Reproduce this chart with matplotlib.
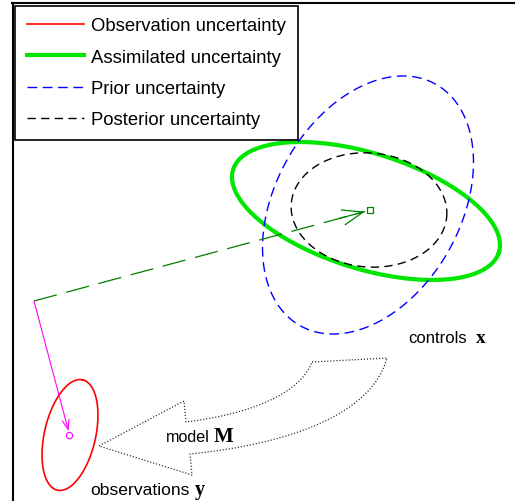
import numpy as np
import matplotlib
matplotlib.use("Agg")
import matplotlib.pyplot as plt
from matplotlib.path import Path
from matplotlib.patches import PathPatch
from matplotlib.lines import Line2D

plt.rcParams['font.family'] = ['Liberation Sans', 'DejaVu Sans']
plt.rcParams['lines.scale_dashes'] = False

W, H = 515, 502

# ---- data (pixel-like schematic coordinates, y grows downward) ----
labels = ['Observation uncertainty', 'Assimilated uncertainty',
          'Prior uncertainty', 'Posterior uncertainty']
ell_cx = [70, 366, 368, 369]
ell_cy = [436, 212, 206, 211]
ell_a = [56.6, 139.2, 138.5, 78.0]      # semi-major
ell_b = [25.6, 57.8, 92.7, 57.0]        # semi-minor
ell_ang = [77.1, -17.3, 60.7, -5.0]     # degrees (y-up convention)

obs_point = (69.3, 436)
ctrl_point = (370, 211.5)
origin_point = (34, 302)
ctrl_tip = (365, 212.5)
obs_tip = (68.5, 432)

# curved "model M" arrow outline: tail corners, curves, head
arrow_x = [312, 387, 372, 290, 190, 192, 99, 184, 186, 250, 300, 312]
arrow_y = [363, 359, 415, 445, 455, 476, 447, 402, 423, 415, 395, 363]

# ---- figure ----
fig = plt.figure(figsize=(W / 100, H / 100), dpi=100)
left_px, top_px = 12.5, 4.0
ax = fig.add_axes([left_px / W, -0.2, 1.2, 1.2 - top_px / H])
ax.set_xlim(left_px, left_px + 1.2 * W)
ax.set_ylim(top_px + (1.2 - top_px / H) * H, top_px)
for s in ['right', 'bottom']:
    ax.spines[s].set_visible(False)
for s in ['left', 'top']:
    ax.spines[s].set_linewidth(1.5)
ax.set_xticks([])
ax.set_yticks([])

styles = [
    dict(color='#ff0000', lw=1.2, ls='-'),
    dict(color='#00e600', lw=3.0, ls='-'),
    dict(color='#0000ff', lw=1.0, ls=(0, (7.0, 4.0))),
    dict(color='#000000', lw=1.0, ls=(0, (6.0, 3.8))),
]

phi = np.linspace(0, 2 * np.pi, 400)
handles = []
for i in range(4):
    th = np.deg2rad(ell_ang[i])
    xs = ell_cx[i] + ell_a[i] * np.cos(phi) * np.cos(th) - ell_b[i] * np.sin(phi) * np.sin(th)
    yup = ell_a[i] * np.cos(phi) * np.sin(th) + ell_b[i] * np.sin(phi) * np.cos(th)
    ys = ell_cy[i] - yup
    ax.plot(xs, ys, color=styles[i]['color'], lw=styles[i]['lw'], ls=styles[i]['ls'])
    handles.append(Line2D([], [], color=styles[i]['color'], lw=styles[i]['lw'],
                          ls=styles[i]['ls'], label=labels[i]))

# green dashed control increment with open arrow head
ax.plot([origin_point[0], ctrl_tip[0]], [origin_point[1], ctrl_tip[1]],
        color='#008000', lw=0.9, ls=(0, (17, 7)))
dx = ctrl_tip[0] - origin_point[0]
dy = ctrl_tip[1] - origin_point[1]
ax.annotate('', xy=ctrl_tip, xytext=(ctrl_tip[0] - 0.08 * dx, ctrl_tip[1] - 0.08 * dy),
            arrowprops=dict(arrowstyle='->,head_length=15,head_width=5.5',
                            mutation_scale=1, color='#008000', lw=0.9,
                            shrinkA=0, shrinkB=0))
ax.plot(*ctrl_point, marker='s', ms=4.5, mfc='none', mec='#008000', mew=0.9)

# magenta observation arrow
ax.annotate('', xy=obs_tip, xytext=origin_point,
            arrowprops=dict(arrowstyle='->,head_length=7,head_width=2.5',
                            mutation_scale=1, color='#ff00ff', lw=0.8,
                            shrinkA=0, shrinkB=0))
ax.plot(*obs_point, marker='o', ms=4.5, mfc='none', mec='#ff00ff', mew=0.8)

# curved model arrow (dotted outline)
verts = list(zip(arrow_x, arrow_y))
codes = [Path.MOVETO, Path.LINETO,
         Path.CURVE4, Path.CURVE4, Path.CURVE4,
         Path.LINETO, Path.LINETO, Path.LINETO, Path.LINETO,
         Path.CURVE4, Path.CURVE4, Path.CURVE4]
ax.add_patch(PathPatch(Path(verts, codes), fill=False, ec='#222222', lw=0.9,
                       ls=(0, (0.8, 1.4))))

# text labels
serif = ['Liberation Serif', 'DejaVu Serif']
ax.text(408, 343, 'controls', fontsize=12, va='baseline')
ax.text(476, 343, 'x', fontsize=14, family=serif, weight='bold', va='baseline')
ax.text(166, 442.5, 'model', fontsize=11.6, va='baseline')
ax.text(213.5, 442.5, 'M', fontsize=15, family=serif, weight='bold', va='baseline')
ax.text(90, 495, 'observations', fontsize=12.6, va='baseline')
ax.text(195, 495, 'y', fontsize=14.5, family=serif, weight='bold', va='baseline')

leg = ax.legend(handles=handles, loc='upper left', bbox_to_anchor=(0, 1),
                borderaxespad=0.15, fontsize=13.3, handlelength=3.1,
                handletextpad=0.4, labelspacing=0.78, borderpad=0.62,
                fancybox=False, edgecolor='black', framealpha=1)
leg.get_frame().set_linewidth(1.2)

fig.savefig('out.png', dpi=100)
